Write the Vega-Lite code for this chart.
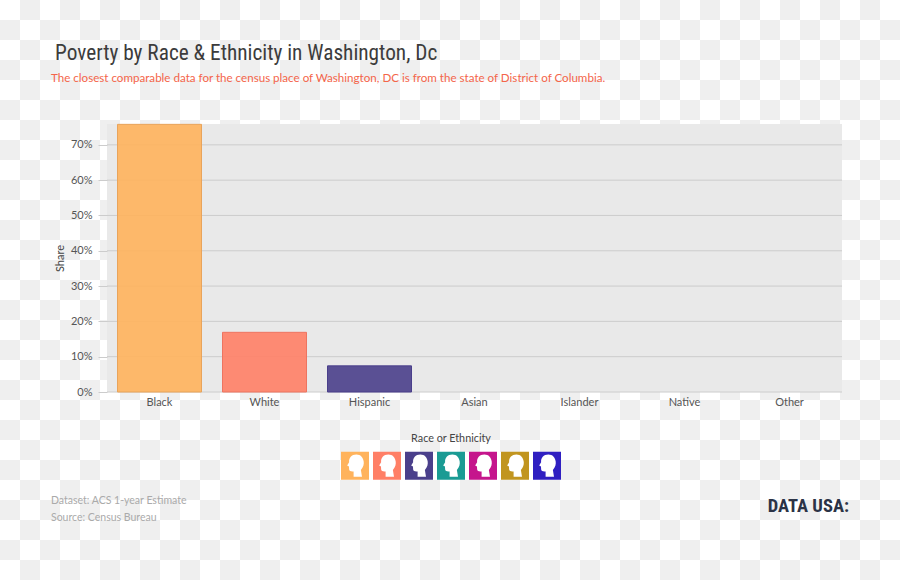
{
"$schema":"https://vega.github.io/schema/vega-lite/v6.json",
"width":735,"height":268,
"autosize":{"type":"none"},
"padding":{"left":107,"top":124,"right":58,"bottom":189},
"background":"#ffffff",
"view":{"stroke":null,"fill":null},
"config":{"axisY":{"labelOverlap":false}},
"title":{"text":"Poverty by Race & Ethnicity in Washington, Dc","anchor":"start","frame":"group","dx":-52,"offset":-64,"font":"Roboto Condensed","fontSize":21.3,"fontWeight":"normal","color":"#3c3c3c"},
"resolve":{"scale":{"y":"independent"}},
"layer":[
{"data":{"values":[{"row":0},{"row":2},{"row":4},{"row":6},{"row":8},{"row":10},{"row":12},{"row":14},{"row":16},{"row":18},{"row":20},{"row":22},{"row":24},{"row":26},{"row":28}]},
 "mark":{"type":"rule","strokeWidth":20,"strokeDash":[20,20],"color":"#efefef"},
 "encoding":{"y":{"field":"row","type":"ordinal","axis":null,"scale":{"type":"point","padding":0,"domain":[0,2,4,6,8,10,12,14,16,18,20,22,24,26,28],"range":[-114,446]}},"x":{"value":-87},"x2":{"value":793}}},
{"data":{"values":[{"row":1},{"row":3},{"row":5},{"row":7},{"row":9},{"row":11},{"row":13},{"row":15},{"row":17},{"row":19},{"row":21},{"row":23},{"row":25},{"row":27}]},
 "mark":{"type":"rule","strokeWidth":20,"strokeDash":[20,20],"color":"#efefef"},
 "encoding":{"y":{"field":"row","type":"ordinal","axis":null,"scale":{"type":"point","padding":0,"domain":[1,3,5,7,9,11,13,15,17,19,21,23,25,27],"range":[-94,426]}},"x":{"value":-107},"x2":{"value":793}}},
{"layer":[
 {"data":{"values":[{"panel":"plot"}]},"mark":{"type":"rect","color":"#e9e9e9"},"encoding":{"x":{"value":0},"x2":{"value":735},"y":{"value":0},"y2":{"value":268}}},
 {"data":{"values":[{"panel":"legend"}]},"mark":{"type":"rect","color":"#ffffff"},"encoding":{"x":{"value":234},"x2":{"value":454},"y":{"value":328},"y2":{"value":356}}},
 {"data":{"values":[{"t":0},{"t":0.1},{"t":0.2},{"t":0.3},{"t":0.4},{"t":0.5},{"t":0.6},{"t":0.7}]},"mark":{"type":"rule","color":"#cccccc","strokeWidth":1},"encoding":{"y":{"field":"t","type":"quantitative","scale":{"domain":[0,0.759],"nice":false},"axis":{"title":"Share","titleFont":"Lato","titleFontSize":11,"titleFontWeight":"normal","titleColor":"#444444","titlePadding":5,"values":[0,0.1,0.2,0.3,0.4,0.5,0.6,0.7],"labelOverlap":false,"format":".0%","grid":false,"domain":false,"tickColor":"#cccccc","tickSize":9,"labelFont":"Lato","labelFontSize":11,"labelColor":"#555555","labelPadding":6,"zindex":1}}}},
 {"data":{"values":[{"race":"Black","share":0.758},{"race":"White","share":0.169},{"race":"Hispanic","share":0.074},{"race":"Asian","share":0},{"race":"Islander","share":0},{"race":"Native","share":0},{"race":"Other","share":0}]},
  "transform":[{"filter":"datum.share>0"}],
  "mark":{"type":"bar","fillOpacity":0.9,"strokeWidth":1},
  "encoding":{
   "x":{"field":"race","type":"nominal","sort":null,"scale":{"domain":["Black","White","Hispanic","Asian","Islander","Native","Other"],"paddingInner":0.2,"paddingOuter":0.1},"axis":{"title":null,"ticks":false,"domain":false,"labelAngle":0,"labelFont":"Lato","labelFontSize":11,"labelColor":"#555555","labelPadding":4,"zindex":1}},
   "y":{"field":"share","type":"quantitative","scale":{"domain":[0,0.759],"nice":false},"axis":{"title":"Share","titleFont":"Lato","titleFontSize":11,"titleFontWeight":"normal","titleColor":"#444444","titlePadding":5,"values":[0,0.1,0.2,0.3,0.4,0.5,0.6,0.7],"labelOverlap":false,"format":".0%","grid":false,"domain":false,"tickColor":"#cccccc","tickSize":9,"labelFont":"Lato","labelFontSize":11,"labelColor":"#555555","labelPadding":6,"zindex":1}},
   "fill":{"field":"race","type":"nominal","scale":{"domain":["Black","White","Hispanic","Asian","Islander","Native","Other"],"range":["#ffb35c","#ff7f66","#4a3f8b","#1a9b94","#c5158c","#c1951f","#2f1fc1"]},
    "legend":{"title":"Race or Ethnicity","orient":"none","legendX":234,"legendY":309,"direction":"horizontal","columns":7,"columnPadding":4,"rowPadding":0,"titleAnchor":"middle","titleFont":"Lato","titleFontSize":10.8,"titleFontWeight":"normal","titleColor":"#444444","titlePadding":8,"symbolSize":784,"symbolOpacity":1,"symbolStrokeWidth":0,"labelExpr":"''","labelFontSize":1,"labelOffset":0,
     "symbolType":"M-1,-1L1,-1L1,1L-1,1ZM0.1,-0.8C-0.25,-0.8,-0.45,-0.55,-0.42,-0.25L-0.56,-0.02L-0.43,0.05L-0.42,0.25C-0.42,0.4,-0.25,0.42,-0.1,0.4L-0.1,0.78L0.5,0.78L0.42,0.3C0.6,0.1,0.65,-0.1,0.62,-0.3C0.58,-0.6,0.4,-0.8,0.1,-0.8Z"}},
   "stroke":{"field":"race","type":"nominal","legend":null,"scale":{"domain":["Black","White","Hispanic","Asian","Islander","Native","Other"],"range":["#e9a45b","#ee7460","#4a3f8b","#1a9b94","#c5158c","#c1951f","#2f1fc1"]}}
  }},
 {"data":{"values":[{"note":"The closest comparable data for the census place of Washington, DC is from the state of District of Columbia."}]},"mark":{"type":"text","align":"left","baseline":"middle","font":"Lato","fontSize":11.6,"color":"#f4654a"},"encoding":{"text":{"field":"note"},"x":{"value":-56},"y":{"value":-45}}},
 {"data":{"values":[{"note":"Dataset: ACS 1-year Estimate"}]},"mark":{"type":"text","align":"left","baseline":"middle","font":"Lato","fontSize":10.5,"color":"#aaaaaa"},"encoding":{"text":{"field":"note"},"x":{"value":-56},"y":{"value":377}}},
 {"data":{"values":[{"note":"Source: Census Bureau"}]},"mark":{"type":"text","align":"left","baseline":"middle","font":"Lato","fontSize":10.5,"color":"#aaaaaa"},"encoding":{"text":{"field":"note"},"x":{"value":-56},"y":{"value":394}}},
 {"data":{"values":[{"note":"DATA USA:"}]},"mark":{"type":"text","align":"right","baseline":"middle","font":"Roboto Condensed","fontSize":18.5,"fontWeight":"bold","color":"#2b3346"},"encoding":{"text":{"field":"note"},"x":{"value":742},"y":{"value":382}}}
]}
]
}
